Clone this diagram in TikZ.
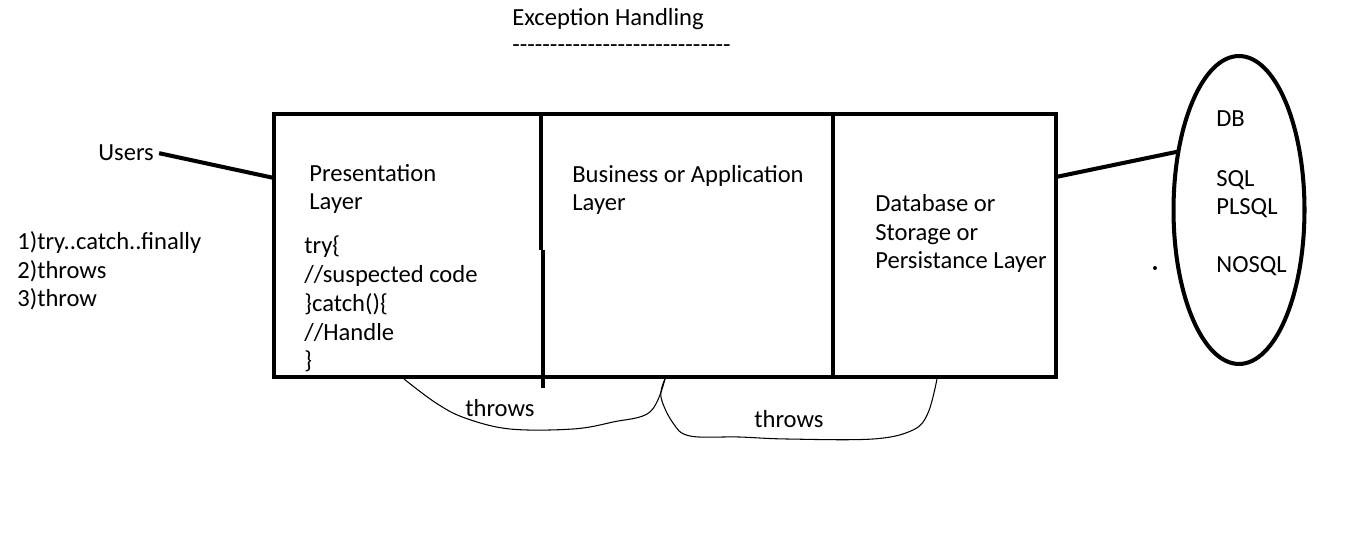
\documentclass[tikz,border=0pt]{standalone}
\usepackage{fontspec}
\setmainfont{Carlito}
\usetikzlibrary{shapes.geometric}
\newcommand\dashrow{\foreach\k in {1,...,29}{-\kern0pt}}
\tikzset{
    thickline/.style={line width=2.3pt},
    label text/.style={anchor=base west, inner sep=0pt, align=left},
    throwline/.style={line width=0.6pt, line join=round},
    }

\begin{document}
\begin{tikzpicture}[x=0.02cm, y=-0.02cm,
        font=\fontsize{14}{16.5}\selectfont,
        ]
        \useasboundingbox (0,0) rectangle (1357,553);
        % title
        \node[label text] (title) at (512,26) {Exception Handling};
        \node[label text] (titlerule) at (512,53) {\dashrow};
        % layers box
        \draw[thickline] (274,114) rectangle (1056,377);
        \draw[thickline] (541,114) -- (541,250);
        \draw[thickline] (543,250) -- (543,388);
        \draw[thickline] (833,114) -- (833,377);
        \coordinate (presW) at (274,178);
        \coordinate (dbE) at (1056,177);
        % texts (base = last line)
        \node[label text] (users) at (98,161) {Users};
        \node[label text] (ways) at (17,307) {1)try..catch..finally\\2)throws\\3)throw};
        \node[label text] (pres) at (309,210) {Presentation\\Layer};
        \node[label text] (code) at (304,369) {try\{\\//suspected code\\\}catch()\{\\//Handle\\\}};
        \node[label text] (business) at (572,211) {Business or Application\\Layer};
        \node[label text] (database) at (875,269) {Database or\\Storage or\\Persistance Layer};
        % storage ellipse
        \node[draw, thickline, ellipse, minimum width=2.62cm, minimum height=6.16cm,
            inner sep=0pt, outer sep=0pt] (store) at (1239,210) {};
        \node[label text] (db) at (1216,127) {DB};
        \node[label text] (sql) at (1216,215) {SQL\\PLSQL};
        \node[label text] (nosql) at (1216,273) {NOSQL};
        \fill (1155,268) circle (2);
        % connectors
        \draw[thickline] (users.east) ++(5,0) -- (presW);
        \draw[thickline] (dbE) -- (store.136);
        % throws
        \draw[throwline] plot[smooth, tension=0.6] coordinates {(404,379) (436,403) (465,418) (510,429)
            (573,429) (613,422) (650,412) (665,379)};
        \draw[throwline] plot[smooth, tension=0.6] coordinates {(665,379) (661,397) (673,423) (690,436)
            (739,437) (787,439) (873,439) (913,430) (928,413) (937,379)};
        \node[label text] (throwsA) at (465,417) {throws};
        \node[label text] (throwsB) at (754,428) {throws};
\end{tikzpicture}
\end{document}
